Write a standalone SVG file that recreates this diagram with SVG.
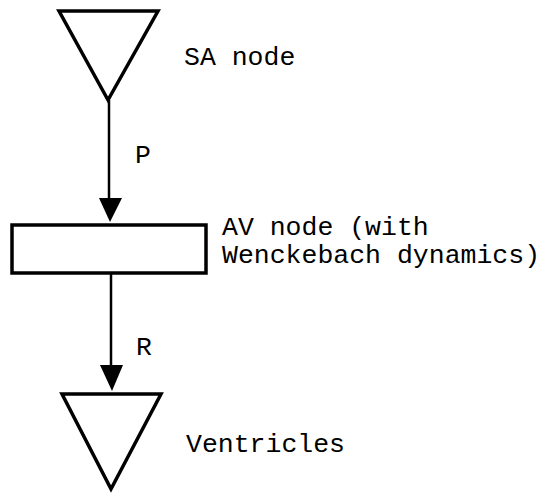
<svg xmlns="http://www.w3.org/2000/svg" width="545" height="496" viewBox="0 0 545 496">
<style>
.shape{fill:none;stroke:#000;stroke-width:3.5;stroke-linejoin:miter}
.conn{stroke:#000;stroke-width:2.5;fill:none}
.head{fill:#000;stroke:none}
text{font-family:"Liberation Mono","Courier New",monospace;font-size:26.5px;fill:#000}
</style>
<rect width="545" height="496" fill="#fff"/>
<g id="sa-node">
<polygon class="shape" points="59,11 158,11 108,100"/>
<text x="184" y="65">SA node</text>
</g>
<g id="av-node">
<rect class="shape" x="12" y="225" width="194" height="48"/>
<text x="222" y="235">AV node (with</text>
<text x="222" y="263">Wenckebach dynamics)</text>
</g>
<g id="ventricles">
<polygon class="shape" points="62,394 161,394 111,489"/>
<text x="186" y="452">Ventricles</text>
</g>
<g id="connectors">
<line class="conn" x1="109" y1="100" x2="109" y2="200"/>
<polygon class="head" points="99,198 122,198 110,222"/>
<text x="135" y="163">P</text>
<line class="conn" x1="111" y1="273" x2="111" y2="367"/>
<polygon class="head" points="100,365 123,365 112,391"/>
<text x="136" y="355">R</text>
</g>
</svg>
